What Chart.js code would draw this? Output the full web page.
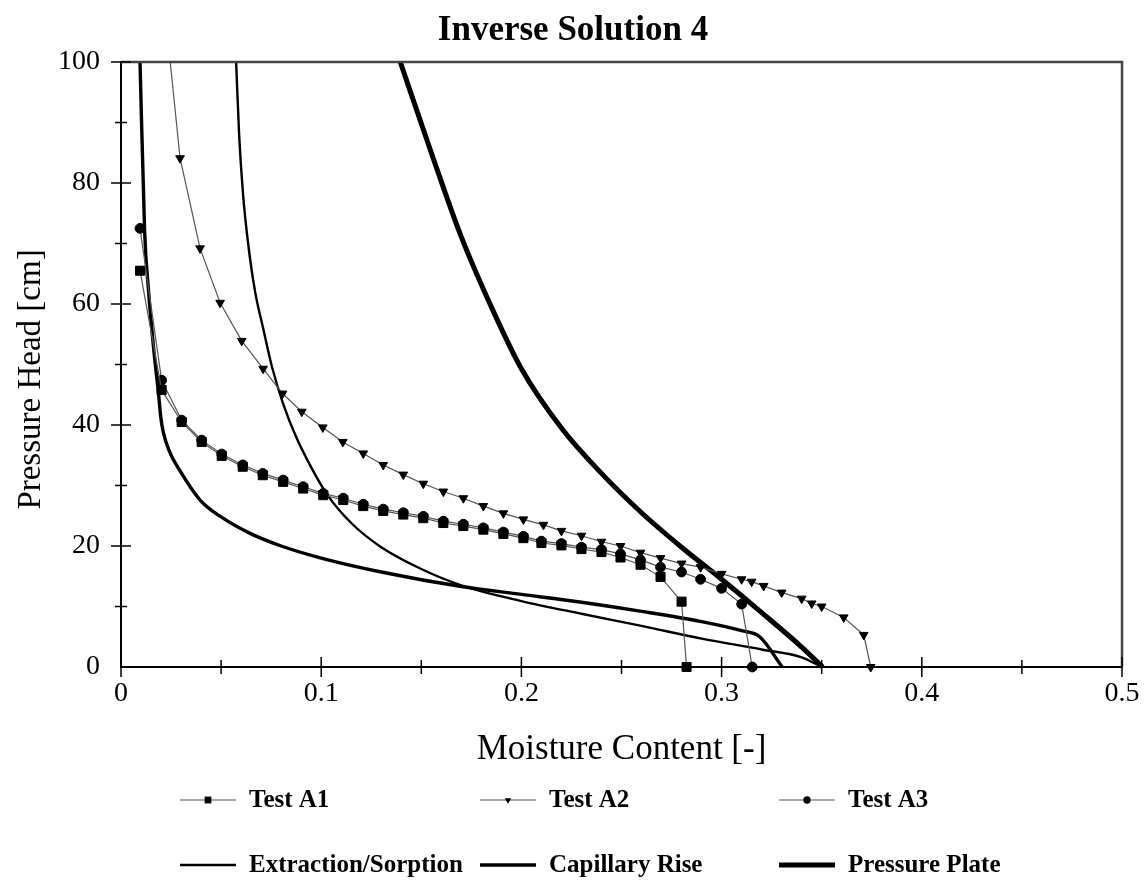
<!DOCTYPE html>
<html><head><meta charset="utf-8">
<script src="https://cdn.jsdelivr.net/npm/chart.js@4.4.1/dist/chart.umd.min.js"></script>
<style>html,body{margin:0;padding:0;background:#fff;}canvas{display:block;}</style>
</head><body>
<canvas id="c" width="1146" height="886"></canvas>
<script>
// ---- tick labels ----
const xTickLabels = ['0', '0.1', '0.2', '0.3', '0.4', '0.5'];
const yTickLabels = ['0', '20', '40', '60', '80', '100'];
const seriesNames = ['Test A1', 'Test A2', 'Test A3', 'Extraction/Sorption', 'Capillary Rise', 'Pressure Plate'];
const chartTitle = 'Inverse Solution 4';
const xAxisTitle = 'Moisture Content [-]';
const yAxisTitle = 'Pressure Head [cm]';

// ---- Test A1 (squares) ----
const a1X = [0.0095, 0.0203, 0.0303, 0.0403, 0.0503, 0.0608, 0.0708, 0.081, 0.091, 0.101, 0.111, 0.121, 0.131, 0.141, 0.151, 0.161, 0.171, 0.181, 0.191, 0.201, 0.210, 0.220, 0.230, 0.240, 0.2495, 0.2595, 0.2695, 0.280, 0.2825];
const a1Y = [65.5, 45.8, 40.5, 37.2, 34.9, 33.1, 31.7, 30.6, 29.5, 28.4, 27.6, 26.6, 25.8, 25.2, 24.6, 23.8, 23.3, 22.7, 22.0, 21.3, 20.5, 20.1, 19.5, 19.0, 18.1, 16.9, 14.9, 10.8, 0];

// ---- Test A2 (down triangles); first value lies above the plot top ----
const a2X = [0.0215, 0.0295, 0.0395, 0.0495, 0.0603, 0.0710, 0.0807, 0.0903, 0.1008, 0.1108, 0.121, 0.131, 0.141, 0.151, 0.161, 0.171, 0.181, 0.191, 0.201, 0.211, 0.220, 0.230, 0.240, 0.2495, 0.2595, 0.2695, 0.280, 0.2895, 0.300, 0.310, 0.315, 0.321, 0.330, 0.340, 0.345, 0.350, 0.361, 0.371, 0.3745];
const a2Y = [110, 84.1, 69.2, 60.2, 53.9, 49.3, 45.2, 42.2, 39.6, 37.2, 35.3, 33.4, 31.8, 30.3, 29.0, 27.9, 26.6, 25.4, 24.4, 23.5, 22.5, 21.7, 20.7, 20.0, 18.9, 18.0, 17.1, 16.5, 15.4, 14.5, 14.1, 13.4, 12.3, 11.3, 10.5, 10.0, 8.2, 5.3, 0];

// ---- Test A3 (circles) ----
const a3X = [0.0095, 0.0203, 0.0303, 0.0403, 0.0503, 0.0608, 0.0708, 0.081, 0.091, 0.101, 0.111, 0.121, 0.131, 0.141, 0.151, 0.161, 0.171, 0.181, 0.191, 0.201, 0.210, 0.220, 0.230, 0.240, 0.2495, 0.2595, 0.2695, 0.280, 0.2895, 0.300, 0.310, 0.3153];
const a3Y = [72.5, 47.4, 40.8, 37.5, 35.2, 33.4, 32.0, 30.9, 29.8, 28.7, 27.9, 26.9, 26.1, 25.5, 24.9, 24.1, 23.6, 23.0, 22.3, 21.6, 20.8, 20.4, 19.8, 19.4, 18.7, 17.7, 16.5, 15.7, 14.5, 13.0, 10.4, 0];

// ---- Extraction/Sorption ----
const extX = [0.0575, 0.059, 0.061, 0.0635, 0.067, 0.071, 0.0755, 0.081, 0.0875, 0.095, 0.103, 0.115, 0.13, 0.15, 0.17, 0.20, 0.23, 0.26, 0.29, 0.32, 0.34, 0.35];
const extY = [100, 88, 78, 70, 62, 56, 49.5, 43.5, 38, 33, 28.5, 23.8, 19.8, 16.2, 13.5, 10.9, 8.8, 6.8, 4.7, 2.9, 1.6, 0];

// ---- Capillary Rise ----
const capX = [0.0095, 0.0118, 0.0138, 0.0165, 0.0188, 0.0198, 0.021, 0.024, 0.0295, 0.0395, 0.05, 0.065, 0.08, 0.10, 0.13, 0.17, 0.20, 0.23, 0.26, 0.29, 0.31, 0.319, 0.3303];
const capY = [100, 72, 62, 52, 45, 41.5, 39, 35.8, 32.4, 27.6, 24.8, 22.0, 20.0, 18.0, 15.7, 13.3, 12.0, 10.7, 9.2, 7.5, 6.0, 5.0, 0];

// ---- Pressure Plate ----
const ppX = [0.1395, 0.155, 0.1695, 0.185, 0.20, 0.22, 0.24, 0.26, 0.28, 0.30, 0.32, 0.34, 0.3505];
const ppY = [100, 85, 71.5, 59.5, 49.3, 39.5, 32.0, 25.5, 19.8, 14.5, 9.0, 3.3, 0];

const pts = (xs, ys) => xs.map((x, i) => ({x: x, y: ys[i]}));
const SERIF = '"Liberation Serif", "Times New Roman", serif';

const clipBox = {left: 12, top: 0, right: 12, bottom: 12};
const testLine = '#555';

const datasets = [
  {label: seriesNames[0], data: pts(a1X, a1Y), borderColor: testLine, borderWidth: 1.2,
   pointStyle: 'rect', pointRadius: 6.4, pointBackgroundColor: '#000', pointBorderColor: '#000', pointBorderWidth: 1, tension: 0, clip: clipBox},
  {label: seriesNames[1], data: pts(a2X, a2Y), borderColor: testLine, borderWidth: 1.2,
   pointStyle: 'triangle', pointRotation: 180, pointRadius: a2X.map((v, i) => a2Y[i] > 100 ? 0 : 5),
   pointBackgroundColor: '#000', pointBorderColor: '#000', pointBorderWidth: 1, tension: 0, clip: clipBox},
  {label: seriesNames[2], data: pts(a3X, a3Y), borderColor: testLine, borderWidth: 1.2,
   pointStyle: 'circle', pointRadius: 4.9, pointBackgroundColor: '#000', pointBorderColor: '#000', pointBorderWidth: 1, tension: 0, clip: clipBox},
  {label: seriesNames[3], data: pts(extX, extY), borderColor: '#000', borderWidth: 2.4,
   pointRadius: 0, cubicInterpolationMode: 'monotone', clip: clipBox},
  {label: seriesNames[4], data: pts(capX, capY), borderColor: '#000', borderWidth: 3.4,
   pointRadius: 0, cubicInterpolationMode: 'monotone', clip: clipBox},
  {label: seriesNames[5], data: pts(ppX, ppY), borderColor: '#000', borderWidth: 5,
   pointRadius: 0, cubicInterpolationMode: 'monotone', clip: clipBox}
];

// legend layout: a grid of two rows and three equal columns
const legendCols = [180, 480, 779];
const legendRows = [800, 865];

function drawMarker(ctx, style, r, rot, cx, cy) {
  ctx.beginPath();
  if (style === 'rect') {
    const s = r * Math.SQRT1_2;
    ctx.rect(cx - s, cy - s, 2 * s, 2 * s);
  } else if (style === 'triangle') {
    let a = (rot || 0) * Math.PI / 180;
    ctx.moveTo(cx + Math.sin(a) * r, cy - Math.cos(a) * r);
    for (let k = 0; k < 2; k++) { a += 2 * Math.PI / 3; ctx.lineTo(cx + Math.sin(a) * r, cy - Math.cos(a) * r); }
    ctx.closePath();
  } else {
    ctx.arc(cx, cy, r, 0, Math.PI * 2);
  }
  ctx.fill();
}

const framePlugin = {
  id: 'frameTicksLegend',
  afterDraw(chart) {
    const {ctx, chartArea: a, scales: {x, y}} = chart;
    ctx.save();
    // top & right frame
    ctx.strokeStyle = '#444';
    ctx.lineWidth = 2.5;
    ctx.beginPath();
    ctx.moveTo(a.left, a.top); ctx.lineTo(a.right, a.top); ctx.lineTo(a.right, a.bottom);
    ctx.stroke();
    // ticks crossing the axes
    ctx.strokeStyle = '#000';
    ctx.lineWidth = 1.5;
    ctx.beginPath();
    x.ticks.forEach(t => {
      const px = x.getPixelForValue(t.value);
      const L = t.label !== '' ? 10 : 7;
      ctx.moveTo(px, a.bottom - L); ctx.lineTo(px, a.bottom + L);
    });
    y.ticks.forEach(t => {
      if (t.value === 0) return;
      const py = y.getPixelForValue(t.value);
      const L = t.label !== '' ? 10 : 6;
      ctx.moveTo(a.left - L, py); ctx.lineTo(a.left + L, py);
    });
    ctx.stroke();
    // y-axis title
    ctx.save();
    ctx.translate(31, (a.top + a.bottom) / 2 + 15);
    ctx.rotate(-Math.PI / 2);
    ctx.font = '33px ' + SERIF;
    ctx.fillStyle = '#000';
    ctx.textAlign = 'center';
    ctx.textBaseline = 'middle';
    ctx.fillText(yAxisTitle, 0, 0);
    ctx.restore();
    // legend
    ctx.font = 'bold 25px ' + SERIF;
    ctx.textBaseline = 'middle';
    ctx.textAlign = 'left';
    chart.data.datasets.forEach((ds, i) => {
      const lx = legendCols[i % 3];
      const ly = legendRows[Math.floor(i / 3)];
      ctx.strokeStyle = ds.borderColor;
      ctx.lineWidth = ds.borderWidth;
      ctx.beginPath(); ctx.moveTo(lx, ly); ctx.lineTo(lx + 56, ly); ctx.stroke();
      const r = Array.isArray(ds.pointRadius) ? Math.max(...ds.pointRadius) : ds.pointRadius;
      if (r > 0) {
        ctx.fillStyle = '#000';
        drawMarker(ctx, ds.pointStyle, r * 0.75, ds.pointRotation, lx + 28, ly);
      }
      ctx.fillStyle = '#000';
      ctx.fillText(ds.label, lx + 69, ly + 1);
    });
    ctx.restore();
  }
};

new Chart(document.getElementById('c'), {
  type: 'line',
  data: {datasets: datasets},
  options: {
    responsive: false,
    animation: false,
    devicePixelRatio: 1,
    layout: {padding: 0},
    plugins: {
      legend: {display: false},
      tooltip: {enabled: false},
      title: {display: true, text: chartTitle, color: '#000',
              font: {family: SERIF, size: 35, weight: 'bold'}, padding: {top: 10, bottom: 10}}
    },
    scales: {
      x: {
        type: 'linear', min: 0, max: 0.5,
        grid: {display: false, drawTicks: false},
        border: {display: true, color: '#000', width: 2},
        ticks: {
          stepSize: 0.05, color: '#000', padding: 10, maxRotation: 0, autoSkip: false,
          font: {family: SERIF, size: 28},
          callback: (v) => {
            const k = Math.round(v * 10);
            return Math.abs(v * 10 - k) < 1e-6 ? xTickLabels[k] : '';
          }
        },
        title: {display: true, text: xAxisTitle, color: '#000',
                font: {family: SERIF, size: 35}, padding: {top: 0, bottom: 115}},
        afterFit: (s) => { s.height = 219; s.paddingRight = 24; }
      },
      y: {
        type: 'linear', min: 0, max: 100,
        grid: {display: false, drawTicks: false},
        border: {display: true, color: '#000', width: 2},
        ticks: {
          stepSize: 10, color: '#000', padding: 21, autoSkip: false,
          font: {family: SERIF, size: 28},
          callback: (v) => { const l = yTickLabels.find(t => Number(t) === v); return l === undefined ? '' : l; }
        },
        afterFit: (s) => { s.width = 121; }
      }
    }
  },
  plugins: [framePlugin]
});
</script>
</body></html>
